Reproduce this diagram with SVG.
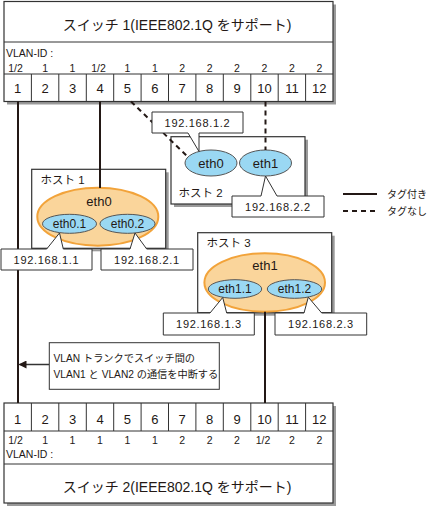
<svg xmlns="http://www.w3.org/2000/svg" width="432" height="509" viewBox="0 0 432 509">
<defs>
<style>
.t{font-family:"Liberation Sans","Noto Sans CJK JP",sans-serif;fill:#231815}
.n{font-family:"Liberation Sans Narrow","Liberation Sans","Noto Sans CJK JP",sans-serif;fill:#231815}
.box{fill:#fff;stroke:#333;stroke-width:1.2}
.sh{fill:#9a9a9a}
.grid{stroke:#333;stroke-width:1;fill:none}
.big{fill:#fad59b;stroke:#f2a33a;stroke-width:2}
.small{fill:#9ad8f3;stroke:#555;stroke-width:1}
.solid{stroke:#231815;stroke-width:2;fill:none}
.dash{stroke:#231815;stroke-width:2;fill:none;stroke-dasharray:5,4}
.call{fill:#fff;stroke:#333;stroke-width:1}
</style>
<marker id="arr" markerWidth="8" markerHeight="8" refX="7" refY="4" orient="auto" markerUnits="userSpaceOnUse">
<path d="M0,0 L8,4 L0,8 Z" fill="#231815"/>
</marker>
</defs>
<rect width="432" height="509" fill="#fff"/>

<g id="switch1">
<rect class="sh" x="7" y="4.5" width="329" height="100"/>
<rect class="box" x="4" y="1.5" width="329" height="100"/>
<path class="grid" d="M4,42H333M4,74H333M31.4,74V101.5M58.8,74V101.5M86.3,74V101.5M113.7,74V101.5M141.1,74V101.5M168.5,74V101.5M195.9,74V101.5M223.3,74V101.5M250.8,74V101.5M278.2,74V101.5M305.6,74V101.5"/>
<text class="t" x="177" y="30" font-size="14" text-anchor="middle">スイッチ 1(IEEE802.1Q をサポート)</text>
<text class="n" x="6" y="56.5" font-size="10.5">VLAN-ID :</text>
<g class="n" font-size="10.5" text-anchor="middle">
<text x="15.5" y="71.5">1/2</text><text x="45.1" y="71.5">1</text><text x="72.5" y="71.5">1</text><text x="98.5" y="71.5">1/2</text><text x="127.4" y="71.5">1</text><text x="154.8" y="71.5">1</text><text x="182.2" y="71.5">2</text><text x="209.6" y="71.5">2</text><text x="237" y="71.5">2</text><text x="264.5" y="71.5">2</text><text x="291.9" y="71.5">2</text><text x="319.3" y="71.5">2</text>
</g>
<g class="n" font-size="13" text-anchor="middle">
<text x="17.7" y="93">1</text><text x="45.1" y="93">2</text><text x="72.5" y="93">3</text><text x="100" y="93">4</text><text x="127.4" y="93">5</text><text x="154.8" y="93">6</text><text x="182.2" y="93">7</text><text x="209.6" y="93">8</text><text x="237" y="93">9</text><text x="264.5" y="93">10</text><text x="291.9" y="93">11</text><text x="319.3" y="93">12</text>
</g>
</g>

<g id="switch2">
<rect class="sh" x="7" y="406" width="329" height="100"/>
<rect class="box" x="4" y="403" width="329" height="100"/>
<path class="grid" d="M4,431H333M4,464H333M31.4,403V431M58.8,403V431M86.3,403V431M113.7,403V431M141.1,403V431M168.5,403V431M195.9,403V431M223.3,403V431M250.8,403V431M278.2,403V431M305.6,403V431"/>
<g class="n" font-size="13" text-anchor="middle">
<text x="17.7" y="423.5">1</text><text x="45.1" y="423.5">2</text><text x="72.5" y="423.5">3</text><text x="100" y="423.5">4</text><text x="127.4" y="423.5">5</text><text x="154.8" y="423.5">6</text><text x="182.2" y="423.5">7</text><text x="209.6" y="423.5">8</text><text x="237" y="423.5">9</text><text x="264.5" y="423.5">10</text><text x="291.9" y="423.5">11</text><text x="319.3" y="423.5">12</text>
</g>
<g class="n" font-size="10.5" text-anchor="middle">
<text x="15.5" y="443.5">1/2</text><text x="45.1" y="443.5">1</text><text x="72.5" y="443.5">1</text><text x="100" y="443.5">1</text><text x="127.4" y="443.5">1</text><text x="154.8" y="443.5">1</text><text x="182.2" y="443.5">2</text><text x="209.6" y="443.5">2</text><text x="237" y="443.5">2</text><text x="263" y="443.5">1/2</text><text x="291.9" y="443.5">2</text><text x="319.3" y="443.5">2</text>
</g>
<text class="n" x="6" y="458" font-size="10.5">VLAN-ID :</text>
<text class="t" x="177" y="492" font-size="14" text-anchor="middle">スイッチ 2(IEEE802.1Q をサポート)</text>
</g>

<g id="host1">
<rect class="sh" x="34.7" y="172.3" width="134" height="79"/>
<rect class="box" x="31.7" y="169.3" width="134" height="79"/>
<text class="t" x="40.5" y="184" font-size="11.5">ホスト 1</text>
<ellipse class="big" cx="97.8" cy="216.7" rx="60.5" ry="29"/>
<text class="t" x="99" y="206" font-size="13" text-anchor="middle">eth0</text>
<ellipse class="small" cx="69.5" cy="223.8" rx="27" ry="9.5"/>
<text class="t" x="69.5" y="228" font-size="12" text-anchor="middle">eth0.1</text>
<ellipse class="small" cx="127.5" cy="223.8" rx="27.5" ry="9.5"/>
<text class="t" x="127.5" y="228" font-size="12" text-anchor="middle">eth0.2</text>
</g>

<g id="host2">
<rect class="sh" x="174" y="139.7" width="134" height="67.3"/>
<rect class="box" x="171" y="136.7" width="134" height="67.3"/>
<ellipse class="small" cx="211" cy="163" rx="26" ry="13"/>
<text class="t" x="211" y="167.5" font-size="13" text-anchor="middle">eth0</text>
<ellipse class="small" cx="265.5" cy="163" rx="26" ry="13"/>
<text class="t" x="265.5" y="167.5" font-size="13" text-anchor="middle">eth1</text>
<text class="t" x="178.5" y="197" font-size="11.5">ホスト 2</text>
</g>

<g id="host3">
<rect class="sh" x="200.7" y="235.7" width="134" height="80"/>
<rect class="box" x="197.7" y="232.7" width="134" height="80"/>
<text class="t" x="206.5" y="247" font-size="11.5">ホスト 3</text>
<ellipse class="big" cx="264.7" cy="282.5" rx="60.3" ry="29.2"/>
<text class="t" x="265" y="270" font-size="13" text-anchor="middle">eth1</text>
<ellipse class="small" cx="235" cy="289" rx="26.7" ry="9.3"/>
<text class="t" x="235" y="293.2" font-size="12" text-anchor="middle">eth1.1</text>
<ellipse class="small" cx="294.5" cy="289" rx="27.2" ry="9.3"/>
<text class="t" x="294.5" y="293.2" font-size="12" text-anchor="middle">eth1.2</text>
</g>

<g id="connectors">
<line class="solid" x1="18" y1="101.5" x2="18" y2="403"/>
<line class="solid" x1="100" y1="101.5" x2="100" y2="188"/>
<line class="dash" x1="131" y1="101.5" x2="188" y2="157"/>
<line class="dash" x1="265.5" y1="101.5" x2="265.5" y2="150"/>
<line class="solid" x1="265" y1="311.7" x2="265" y2="403"/>
<line stroke="#333" stroke-width="1.5" x1="49.3" y1="364.5" x2="19.5" y2="364.5" marker-end="url(#arr)"/>
</g>

<g id="label-192-168-1-2">
<path class="call" d="M152,112H243V133H199L199,151.5L188,133H152Z"/>
<text class="t" x="197.5" y="126.5" font-size="11" letter-spacing="0.7" text-anchor="middle">192.168.1.2</text>
</g>
<g id="label-192-168-2-2">
<path class="call" d="M232,196H261L265.5,176L277,196H324V217H232Z"/>
<text class="t" x="278" y="210.5" font-size="11" letter-spacing="0.7" text-anchor="middle">192.168.2.2</text>
</g>
<g id="label-192-168-1-1">
<path class="call" d="M1,249H46.7L59.5,233L63.3,249H92V270H1Z"/>
<text class="t" x="46.5" y="263.5" font-size="11" letter-spacing="0.7" text-anchor="middle">192.168.1.1</text>
</g>
<g id="label-192-168-2-1">
<path class="call" d="M101,249H130L135,233L146.7,249H193V270H101Z"/>
<text class="t" x="147" y="263.5" font-size="11" letter-spacing="0.7" text-anchor="middle">192.168.2.1</text>
</g>
<g id="label-192-168-1-3">
<path class="call" d="M163.3,313H210L222.7,297.5L226.7,313H254.3V335H163.3Z"/>
<text class="t" x="209" y="328" font-size="11" letter-spacing="0.7" text-anchor="middle">192.168.1.3</text>
</g>
<g id="label-192-168-2-3">
<path class="call" d="M275,313H304L308.3,297.2L321.7,313H366.7V335H275Z"/>
<text class="t" x="321" y="328" font-size="11" letter-spacing="0.7" text-anchor="middle">192.168.2.3</text>
</g>

<g id="note">
<rect class="call" x="49.3" y="342.7" width="170" height="46.6"/>
<text class="t" x="53.5" y="361.5" font-size="10.2">VLAN トランクでスイッチ間の</text>
<text class="t" x="53.5" y="378" font-size="10.2">VLAN1 と VLAN2 の通信を中断する</text>
</g>

<g id="legend">
<line class="solid" x1="343" y1="194" x2="377" y2="194"/>
<text class="t" x="387" y="198" font-size="10">タグ付き</text>
<line class="dash" x1="343" y1="211" x2="377" y2="211"/>
<text class="t" x="387" y="215" font-size="10">タグなし</text>
</g>
</svg>
